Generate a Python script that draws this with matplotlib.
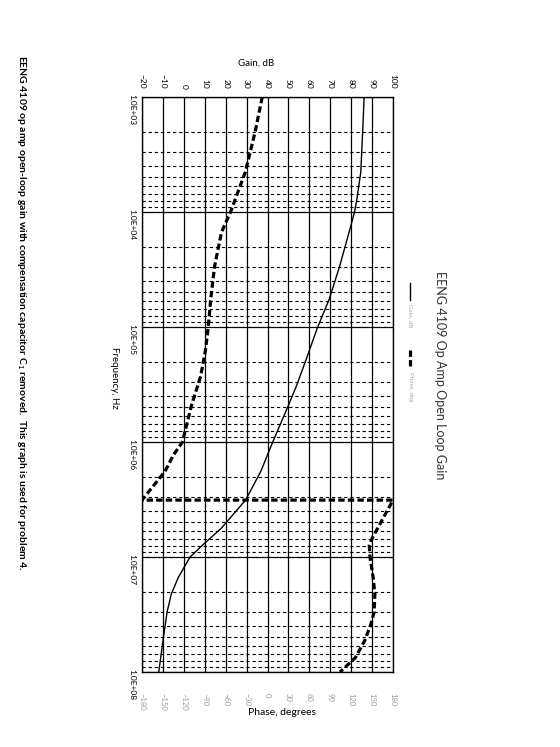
import numpy as np
import matplotlib
matplotlib.use("Agg")
import matplotlib.pyplot as plt
from matplotlib.ticker import LogLocator, NullFormatter, FuncFormatter
from matplotlib.lines import Line2D

plt.rcParams['font.family'] = ['Lato', 'DejaVu Sans']

# open-loop gain
gain_freq = [1.0e3, 2.0e3, 4.5e3, 7.8e3, 1.0e4, 1.5e4, 3.0e4, 5.8e4, 1.0e5, 1.8e5,
             3.2e5, 4.8e5, 1.0e6, 1.8e6, 3.2e6, 5.6e6, 7.9e6, 1.0e7, 1.5e7, 2.1e7,
             3.0e7, 5.4e7, 1.0e8]
gain_db = [86.2, 85.5, 84.6, 82.7, 81.6, 79.0, 74.4, 69.4, 64.0, 59.0,
           54.0, 50.0, 42.5, 36.8, 29.5, 18.0, 8.9, 3.0, -2.6, -6.0,
           -8.0, -10.0, -12.0]

# phase (wraps from -180 to +180 near 3.2 MHz)
phase_freq = [1.0e3, 2.0e3, 4.5e3, 1.0e4, 1.5e4, 3.0e4, 5.8e4, 1.0e5, 1.6e5, 2.7e5,
              4.8e5, 8.9e5, 1.0e6, 1.3e6, 1.8e6, 3.2e6, 3.2e6, 6.9e6, 7.9e6, 1.0e7,
              1.5e7, 2.1e7, 3.0e7, 3.9e7, 5.4e7, 7.5e7, 1.0e8]
phase_deg = [-7.5, -17.7, -31.8, -53, -66, -76, -81.5, -85, -89, -96,
             -109, -120, -122, -135, -147, -180, 180, 150, 146, 147,
             151.5, 154, 153, 148, 139, 126, 104]

gain_ticks = np.arange(-20, 101, 10)
phase_ticks = np.arange(-180, 181, 30)

W, H = 560, 747
fig = plt.figure(figsize=(W / 100, H / 100), dpi=100, facecolor='white')
ax = fig.add_axes([142 / W, 1 - 672 / H, 251 / W, 575 / H])

# page is turned: gain runs across, frequency runs down
ax.plot(gain_db, gain_freq, color='black', lw=1.0, zorder=4)
ax.set_xlim(-20, 100)
ax.set_yscale('log')
ax.set_ylim(1e8, 1e3)
ax.set_xticks(gain_ticks)
ax.yaxis.set_major_locator(LogLocator(base=10))
ax.yaxis.set_minor_locator(LogLocator(base=10, subs=np.arange(2, 10)))
ax.yaxis.set_minor_formatter(NullFormatter())
ax.yaxis.set_major_formatter(FuncFormatter(lambda v, p: f"{v:.1E}"))
ax.tick_params(axis='y', which='both', length=0, pad=5, labelsize=6, labelrotation=270)

ax.grid(axis='x', color='black', lw=0.9)
ax.grid(axis='y', which='major', color='black', lw=0.9)
ax.grid(axis='y', which='minor', color='black', lw=0.8, ls=(0, (3, 2.5)))
for s in ax.spines.values():
    s.set_linewidth(0.9)

ax2 = ax.twiny()
ax2.plot(phase_deg, phase_freq, color='black', lw=2.3, ls=(0, (2, 1)), zorder=5)
ax2.set_xlim(-180, 180)
ax2.set_xticks(phase_ticks)
ax2.xaxis.tick_bottom()
ax2.tick_params(axis='x', length=0, pad=15, labelsize=5.5, labelcolor='#9a9a9a',
                labelrotation=270)

# twiny moves the gain ticks to the bottom, put them back on top
ax.xaxis.tick_top()
ax.tick_params(axis='x', length=0, pad=6, labelsize=6, labelrotation=270)

ax.text(0.454, 1.059, 'Gain, dB', transform=ax.transAxes, ha='center', va='center',
        fontsize=7)
ax.text(0.558, -0.071, 'Phase, degrees', transform=ax.transAxes, ha='center',
        va='center', fontsize=7.5)
ax.text(-0.108, 0.511, 'Frequency, Hz', transform=ax.transAxes, ha='center',
        va='center', fontsize=7, rotation=270)

# title and hand-made legend, turned with the page
fig.text(440 / W, 1 - 375 / H, 'EENG 4109 Op Amp Open Loop Gain', rotation=270,
         ha='center', va='center', fontsize=9, color='#333333')
fig.add_artist(Line2D([410 / W, 410 / W], [1 - 283 / H, 1 - 300 / H], color='black',
                      lw=1.0, transform=fig.transFigure))
fig.text(410 / W, 1 - 304 / H, 'Gain, dB', rotation=270, ha='center', va='top',
         fontsize=4.5, color='#aaaaaa')
fig.add_artist(Line2D([410 / W, 410 / W], [1 - 350 / H, 1 - 368 / H], color='black',
                      lw=2.3, ls=(0, (2, 1)), transform=fig.transFigure))
fig.text(410 / W, 1 - 372 / H, 'Phase, deg', rotation=270, ha='center', va='top',
         fontsize=4.5, color='#aaaaaa')

fig.text(21 / W, 1 - 55 / H,
         'EENG 4109 op amp open-loop gain with compensation capacitor C$_1$ removed.'
         '  This graph is used for problem 4.',
         rotation=270, ha='center', va='top', fontsize=7.5, fontweight='bold')

fig.savefig('out.png', dpi=100)
